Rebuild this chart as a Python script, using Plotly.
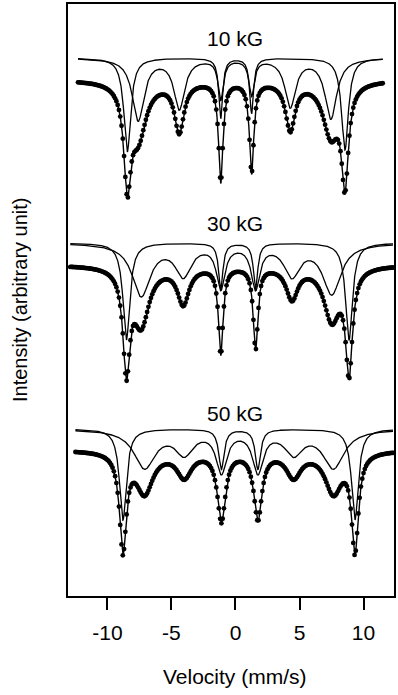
import numpy as np
import plotly.graph_objects as go

# ---------------- data ----------------
x_tick_vals = [-10, -5, 0, 5, 10]
x_tick_text = ["-10", "-5", "0", "5", "10"]
field_labels = ["10 kG", "30 kG", "50 kG"]

# Lorentzian line parameters (velocity mm/s, depth in arbitrary intensity units, HWHM mm/s)
# 10 kG
sharp_pos_10 = [-8.45, -1.15, 1.26, 8.55]
sharp_depth_10 = [94, 60, 55, 92]
sharp_width_10 = [0.32, 0.18, 0.18, 0.32]
broad_pos_10 = [-7.60, -4.39, -1.15, 1.26, 4.28, 7.45]
broad_depth_10 = [62, 50, 40, 36, 48, 60]
broad_width_10 = [0.55, 0.50, 0.25, 0.25, 0.50, 0.55]
fit_sharp_depth_10 = [93, 60, 55, 96]
fit_sharp_width_10 = [0.32, 0.18, 0.18, 0.32]
fit_broad_depth_10 = [55, 50, 40, 36, 48, 53]
fit_broad_width_10 = [0.75, 0.45, 0.25, 0.25, 0.45, 0.75]
vel_range_10 = [-12.3, 11.5]

# 30 kG
sharp_pos_30 = [-8.52, -1.15, 1.57, 8.87]
sharp_depth_30 = [97, 46, 46, 97]
sharp_width_30 = [0.32, 0.20, 0.20, 0.32]
broad_pos_30 = [-7.36, -4.08, -1.15, 1.57, 4.41, 7.52]
broad_depth_30 = [52, 31, 43, 43, 31, 50]
broad_width_30 = [0.85, 0.75, 0.40, 0.40, 0.75, 0.85]
fit_sharp_depth_30 = [98, 55, 52, 101]
fit_sharp_width_30 = [0.32, 0.22, 0.22, 0.32]
fit_broad_depth_30 = [57, 37, 32, 30, 32, 53]
fit_broad_width_30 = [0.75, 0.55, 0.22, 0.22, 0.55, 0.75]
vel_range_30 = [-12.9, 12.3]

# 50 kG
sharp_pos_50 = [-8.79, -1.10, 1.75, 9.33]
sharp_depth_50 = [91, 40, 40, 91]
sharp_width_50 = [0.32, 0.25, 0.25, 0.32]
broad_pos_50 = [-7.10, -4.00, -1.10, 1.75, 4.54, 7.65]
broad_depth_50 = [38, 23, 41, 41, 23, 38]
broad_width_50 = [1.00, 0.85, 0.50, 0.50, 0.85, 1.00]
fit_sharp_depth_50 = [97, 45, 43, 97]
fit_sharp_width_50 = [0.32, 0.35, 0.35, 0.32]
fit_broad_depth_50 = [41, 25, 24, 24, 25, 41]
fit_broad_width_50 = [0.80, 0.70, 0.45, 0.45, 0.70, 0.80]
vel_range_50 = [-12.5, 12.3]

# ---------------- layout placement (vertical stacking) ----------------
comp_offset = [538, 353, 167]
fit_offset = [516, 331, 146]
label_offset = [558, 373, 183]
channel_step = 0.1


def absorption(v, pos, depth, width):
    total = np.zeros_like(v)
    for p, d, w in zip(pos, depth, width):
        total += d / (1.0 + ((v - p) / w) ** 2)
    return total


spectra = [
    dict(sp=sharp_pos_10, sd=sharp_depth_10, sw=sharp_width_10,
         bp=broad_pos_10, bd=broad_depth_10, bw=broad_width_10,
         fsd=fit_sharp_depth_10, fsw=fit_sharp_width_10,
         fbd=fit_broad_depth_10, fbw=fit_broad_width_10, vr=vel_range_10),
    dict(sp=sharp_pos_30, sd=sharp_depth_30, sw=sharp_width_30,
         bp=broad_pos_30, bd=broad_depth_30, bw=broad_width_30,
         fsd=fit_sharp_depth_30, fsw=fit_sharp_width_30,
         fbd=fit_broad_depth_30, fbw=fit_broad_width_30, vr=vel_range_30),
    dict(sp=sharp_pos_50, sd=sharp_depth_50, sw=sharp_width_50,
         bp=broad_pos_50, bd=broad_depth_50, bw=broad_width_50,
         fsd=fit_sharp_depth_50, fsw=fit_sharp_width_50,
         fbd=fit_broad_depth_50, fbw=fit_broad_width_50, vr=vel_range_50),
]

fig = go.Figure()
FONT = "Liberation Sans, Arial, Helvetica, sans-serif"

for i, s in enumerate(spectra):
    v = np.linspace(s["vr"][0], s["vr"][1], 1500)
    sharp = comp_offset[i] - absorption(v, s["sp"], s["sd"], s["sw"])
    broad = comp_offset[i] - absorption(v, s["bp"], s["bd"], s["bw"])
    fit = fit_offset[i] - absorption(v, s["sp"], s["fsd"], s["fsw"]) \
        - absorption(v, s["bp"], s["fbd"], s["fbw"])
    fig.add_trace(go.Scatter(x=v, y=sharp, mode="lines",
                             line=dict(color="black", width=1.3), hoverinfo="skip"))
    fig.add_trace(go.Scatter(x=v, y=broad, mode="lines",
                             line=dict(color="black", width=1.3), hoverinfo="skip"))
    fig.add_trace(go.Scatter(x=v, y=fit, mode="lines",
                             line=dict(color="black", width=1.4), hoverinfo="skip"))
    vc = np.arange(s["vr"][0], s["vr"][1] + 1e-9, channel_step)
    dots = fit_offset[i] - absorption(vc, s["sp"], s["fsd"], s["fsw"]) \
        - absorption(vc, s["bp"], s["fbd"], s["fbw"])
    fig.add_trace(go.Scatter(x=vc, y=dots, mode="markers",
                             marker=dict(color="black", size=4.8), hoverinfo="skip"))
    fig.add_annotation(x=0, y=label_offset[i], xref="x", yref="y",
                       xanchor="center", yanchor="middle",
                       text=field_labels[i], showarrow=False,
                       font=dict(family=FONT, size=21, color="black"))

fig.add_annotation(x=0, y=0, xref="x", yref="paper", yshift=-80,
                   xanchor="center", yanchor="middle",
                   text="Velocity (mm/s)", showarrow=False,
                   font=dict(family=FONT, size=21, color="black"))
fig.add_annotation(x=0, y=0.5, xref="paper", yref="paper", xshift=-48,
                   xanchor="center", yanchor="middle",
                   text="Intensity (arbitrary unit)", showarrow=False, textangle=-90,
                   font=dict(family=FONT, size=20, color="black"))

fig.update_layout(
    width=398, height=695,
    margin=dict(l=68, r=2, t=4, b=99),
    paper_bgcolor="white", plot_bgcolor="white",
    showlegend=False,
)
fig.update_xaxes(range=[-13.08, 12.38], tickvals=x_tick_vals, ticktext=x_tick_text,
                 ticks="outside", ticklen=12, tickwidth=1.5, tickcolor="black",
                 ticklabelstandoff=5,
                 showline=True, linewidth=1.5, linecolor="black", mirror=True,
                 showgrid=False, zeroline=False,
                 tickfont=dict(family=FONT, size=21, color="black"))
fig.update_yaxes(range=[0, 592], showticklabels=False, ticks="",
                 showline=True, linewidth=1.5, linecolor="black", mirror=True,
                 showgrid=False, zeroline=False)

fig.write_html("out.html", config={"displayModeBar": False},
               post_script="document.body.style.margin='0';document.body.style.padding='0';")
